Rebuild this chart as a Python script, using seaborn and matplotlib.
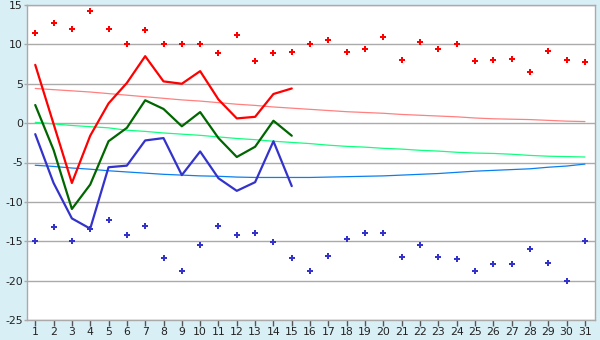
import matplotlib
matplotlib.use("Agg")
import matplotlib.pyplot as plt
import seaborn as sns
import pandas as pd
import numpy as np

days = list(range(1, 32))
daily_max = [11.5, 12.7, 12.0, 14.3, 12.0, 10.0, 11.8, 10.0, 10.0, 10.1,
             8.9, 11.2, 7.9, 8.9, 9.0, 10.0, 10.5, 9.0, 9.4, 11.0,
             8.0, 10.3, 9.4, 10.0, 7.9, 8.0, 8.1, 6.5, 9.1, 8.0, 7.7]
daily_min = [-15.0, -13.2, -15.0, -13.4, -12.3, -14.2, -13.0, -17.1, -18.8, -15.5,
             -13.0, -14.2, -14.0, -15.1, -17.1, -18.8, -16.9, -14.7, -14.0, -14.0,
             -17.0, -15.5, -17.0, -17.3, -18.8, -17.9, -17.9, -16.0, -17.8, -20.0, -15.0]
obs_days = list(range(1, 16))
obs_max = [7.4, -0.1, -7.6, -1.6, 2.5, 5.1, 8.5, 5.3, 5.0, 6.6, 3.0, 0.6, 0.8, 3.7, 4.4]
obs_mean = [2.3, -3.4, -10.9, -7.8, -2.3, -0.6, 2.9, 1.8, -0.4, 1.4, -1.9, -4.3, -3.0, 0.3, -1.6]
obs_min = [-1.4, -7.6, -12.1, -13.4, -5.6, -5.4, -2.2, -1.9, -6.6, -3.6, -7.0, -8.6, -7.5, -2.3, -8.0]
norm_max = [4.4, 4.25, 4.1, 3.95, 3.75, 3.55, 3.35, 3.15, 2.95, 2.8,
            2.6, 2.4, 2.25, 2.05, 1.9, 1.75, 1.6, 1.45, 1.35, 1.25,
            1.1, 1.0, 0.9, 0.8, 0.65, 0.55, 0.5, 0.45, 0.35, 0.25, 0.2]
norm_mean = [0.1, -0.1, -0.3, -0.45, -0.6, -0.9, -1.05, -1.25, -1.4, -1.55,
             -1.75, -1.95, -2.1, -2.3, -2.45, -2.6, -2.8, -2.95, -3.05, -3.2,
             -3.3, -3.45, -3.55, -3.7, -3.8, -3.85, -3.95, -4.1, -4.2, -4.25, -4.3]
norm_min = [-5.35, -5.5, -5.7, -5.85, -6.05, -6.2, -6.35, -6.5, -6.6, -6.7,
            -6.75, -6.85, -6.9, -6.9, -6.9, -6.9, -6.85, -6.8, -6.75, -6.7,
            -6.6, -6.5, -6.4, -6.25, -6.1, -6.0, -5.9, -5.8, -5.6, -5.45, -5.2]
y_ticks = [-25, -20, -15, -10, -5, 0, 5, 10, 15]

sns.set_theme(style="white")
plt.rcParams['font.family'] = ['DejaVu Sans']

fig = plt.figure(figsize=(6, 3.4), dpi=100)
fig.patch.set_facecolor('#d9eff6')
ax = fig.add_axes([27/600, 1-320/340, (595-27)/600, (320-5)/340])
ax.set_facecolor('white')

norm_df = pd.DataFrame({'day': days, 'nmax': norm_max, 'nmean': norm_mean, 'nmin': norm_min})
obs_df = pd.DataFrame({'day': obs_days, 'max': obs_max, 'mean': obs_mean, 'min': obs_min})
ext_df = pd.DataFrame({'day': days, 'dmax': daily_max, 'dmin': daily_min})

sns.lineplot(data=norm_df, x='day', y='nmax', ax=ax, color='#ff8080', linewidth=0.9)
sns.lineplot(data=norm_df, x='day', y='nmean', ax=ax, color='#11ff80', linewidth=0.9)
sns.lineplot(data=norm_df, x='day', y='nmin', ax=ax, color='#0a80f0', linewidth=0.9)

sns.lineplot(data=obs_df, x='day', y='max', ax=ax, color='#ff0000', linewidth=1.6)
sns.lineplot(data=obs_df, x='day', y='mean', ax=ax, color='#006600', linewidth=1.6)
sns.lineplot(data=obs_df, x='day', y='min', ax=ax, color='#3333cc', linewidth=1.6)

sns.scatterplot(data=ext_df, x='day', y='dmax', ax=ax, color='#ff0000', marker='P',
                s=20, linewidth=0)
sns.scatterplot(data=ext_df, x='day', y='dmin', ax=ax, color='#3333cc', marker='P',
                s=20, linewidth=0)

ax.set_xlim(0.55, 31.55)
ax.set_ylim(-25, 15)
ax.set_xticks(days)
ax.set_xticklabels([str(d) for d in days])
ax.set_yticks(y_ticks)
ax.set_yticklabels([str(v) for v in y_ticks])
ax.set_xlabel('')
ax.set_ylabel('')
ax.grid(axis='y', color='#aaaaaa', linewidth=1.0)
ax.set_axisbelow(True)
for sp in ax.spines.values():
    sp.set_color('#aaaaaa')
    sp.set_linewidth(1.0)
ax.tick_params(axis='x', direction='out', length=4, width=1, color='#555555',
               labelsize=7.8, pad=1, labelcolor='#222222')
ax.tick_params(axis='y', direction='out', length=2, width=1, color='#aaaaaa',
               labelsize=7.8, pad=1, labelcolor='#222222')
ax.tick_params(bottom=True, left=True)

fig.savefig('out.png', dpi=100, facecolor=fig.get_facecolor())
